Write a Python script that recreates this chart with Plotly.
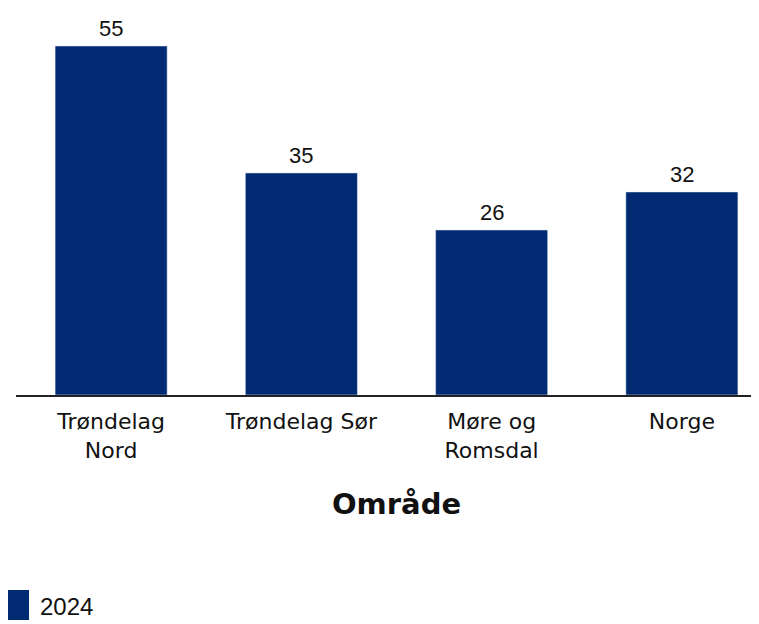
import plotly.graph_objects as go

categories = ["Trøndelag<br>Nord", "Trøndelag Sør", "Møre og<br>Romsdal", "Norge"]
values_2024 = [55, 35, 26, 32]
series_name = "2024"
axis_title = "Område"

bar_color = "#002a72"
y_max = 60.68

fig = go.Figure()
fig.add_trace(go.Bar(
    x=categories, y=values_2024, name=series_name,
    marker_color=bar_color, showlegend=False,
))

for c, v in zip(categories, values_2024):
    fig.add_annotation(x=c, y=v, text=str(v), showarrow=False,
                       xanchor="center", yanchor="bottom", yshift=3,
                       font=dict(family="Liberation Sans, Arial", size=22, color="#111"))

W = 769
PH = 385
fig.update_layout(
    width=W, height=624,
    margin=dict(l=8, r=0, t=2, b=237),
    plot_bgcolor="white", paper_bgcolor="white",
    bargap=0.411,
    xaxis=dict(
        range=[-0.5, 3.5], showline=True, linecolor="#222", linewidth=1.5,
        ticks="", ticklabelstandoff=6,
        tickfont=dict(family="DejaVu Sans", size=22, color="#111"),
        title=dict(text="<b>" + axis_title + "</b>",
                   font=dict(family="DejaVu Sans", size=29, color="#111"), standoff=32),
        fixedrange=True,
    ),
    yaxis=dict(range=[0, y_max], visible=False, showgrid=False),
    showlegend=False,
)

PW = W - 8
# legend-like swatch
fig.add_shape(type="rect", xref="paper", yref="paper",
              x0=-16/PW, x1=13/PW, y0=-(620-395)/PH, y1=-(590-395)/PH,
              fillcolor=bar_color, line=dict(width=0))
fig.add_annotation(text=series_name, xref="paper", yref="paper",
                   x=(38-16)/PW, y=-(606-395)/PH, xanchor="left", yanchor="middle",
                   showarrow=False, font=dict(family="Liberation Sans, Arial", size=24, color="#111"))

fig.write_html("out.html")
